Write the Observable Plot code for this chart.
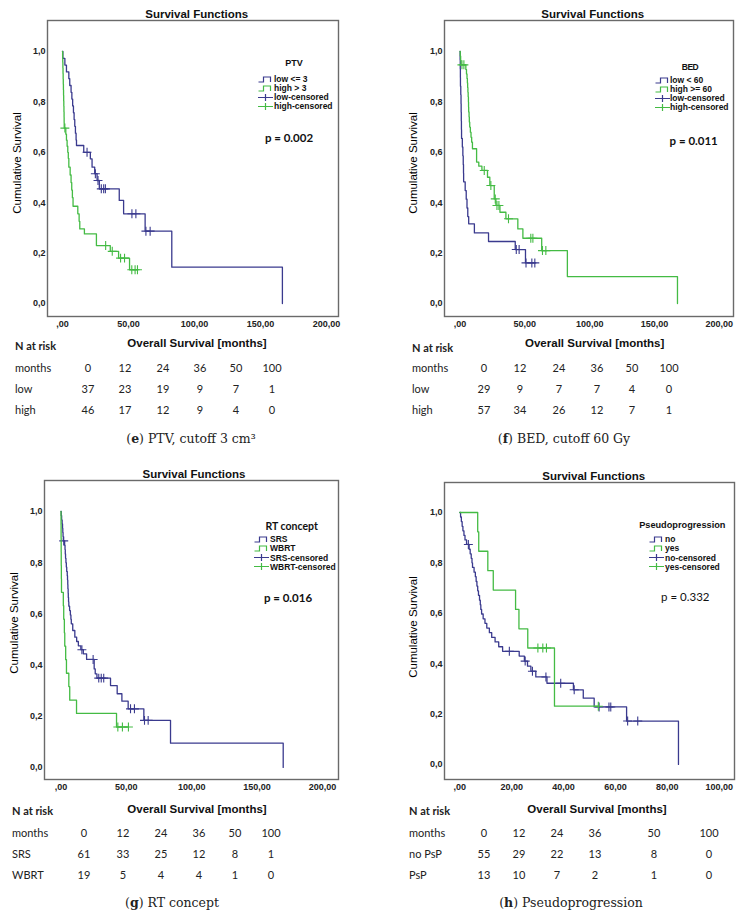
<!DOCTYPE html>
<html><head><meta charset="utf-8">
<script src="https://cdn.jsdelivr.net/npm/d3@7"></script>
<script src="https://cdn.jsdelivr.net/npm/@observablehq/plot@0.6"></script>
<style>
body{margin:0;background:#fff;}
#page{position:relative;width:744px;height:917px;overflow:hidden;font-family:"Liberation Sans",Arial,sans-serif;color:#111;}
.abs{position:absolute;white-space:nowrap;line-height:1;}
.c{transform:translate(-50%,-50%);}
.l{transform:translate(0,-50%);}
.title{font-weight:bold;font-size:11.5px;}
.xlab{font-weight:bold;font-size:11.5px;}
.ylab{font-size:11.5px;transform:translate(-50%,-50%) rotate(-90deg);color:#000;}
.tbl{font-family:Lato,"Open Sans",sans-serif;font-size:11px;color:#222;}
.tblh{font-family:Lato,"Open Sans",sans-serif;font-size:11px;font-weight:bold;color:#222;}
.cap{font-family:"DejaVu Serif",serif;font-size:12.5px;color:#222;}
.leg{font-weight:bold;font-size:8.5px;}
.pval{font-family:Lato,"Open Sans",sans-serif;font-size:11.5px;}
</style></head><body><div id="page"></div>
<script>
const NAVY = "#3a3a8e", GREEN = "#44bb44";
const riskMonths = [0, 12, 24, 36, 50, 100];
const yTickValues = [0, 0.2, 0.4, 0.6, 0.8, 1.0];
const xTicks200 = [0, 50, 100, 150, 200];
const xTicks100 = [0, 20, 40, 60, 80, 100];

// (e) PTV
const ptvLowEvents = [[0.3,0.973],[1.8,0.946],[3.0,0.919],[4.8,0.892],[5.5,0.865],[6.5,0.838],[7.1,0.811],[7.7,0.784],[8.3,0.757],[8.8,0.730],[9.3,0.703],[9.8,0.676],[10.3,0.649],[10.6,0.627],[16.1,0.600],[21.1,0.574],[22.4,0.541],[24.4,0.515],[26.2,0.488],[27.9,0.455],[43.0,0.409],[46.3,0.356],[62.6,0.287],[82.8,0.144],[166.6,0]];
const ptvLowCensored = [18.6,24.9,26.9,29.4,31.2,32.5,52.6,55.6,63.2,66.4];
const ptvHighEvents = [[0.1,0.978],[0.2,0.957],[0.3,0.935],[0.4,0.913],[0.5,0.891],[0.6,0.870],[0.7,0.848],[0.8,0.826],[0.9,0.804],[1.0,0.783],[1.1,0.761],[1.2,0.739],[1.25,0.717],[1.3,0.696],[2.5,0.672],[3.0,0.648],[3.5,0.624],[4.0,0.600],[4.4,0.576],[4.8,0.541],[5.8,0.510],[6.5,0.480],[7.0,0.450],[7.5,0.420],[8.0,0.386],[11.6,0.356],[12.6,0.326],[13.1,0.296],[16.6,0.276],[25.7,0.230],[36.2,0.207],[42.5,0.180],[50.8,0.134]];
const ptvHighCensored = [1.8,32.7,37.7,44.0,47.0,52.5,55.0,56.8];
const ptvLowRisk = [37, 23, 19, 9, 7, 1];
const ptvHighRisk = [46, 17, 12, 9, 4, 0];

// (f) BED
const bedLowEvents = [[0.1,0.966],[0.2,0.931],[0.3,0.897],[0.35,0.862],[0.6,0.828],[0.8,0.793],[0.9,0.759],[1.0,0.724],[1.1,0.690],[1.2,0.655],[1.8,0.621],[2.2,0.586],[2.5,0.552],[2.7,0.517],[2.8,0.483],[4.0,0.448],[4.8,0.414],[5.4,0.379],[6.0,0.345],[6.7,0.316],[11.1,0.280],[22.0,0.246],[42.6,0.214],[50.5,0.161]];
const bedLowCensored = [43.4,45.6,50.9,55.4,57.7];
const bedHighEvents = [[0.2,0.982],[0.5,0.965],[0.8,0.947],[4.5,0.929],[5.0,0.911],[5.4,0.893],[5.7,0.875],[5.9,0.857],[6.1,0.838],[6.3,0.820],[6.5,0.800],[6.6,0.780],[6.7,0.760],[7.0,0.740],[7.2,0.720],[7.5,0.700],[8.0,0.680],[8.5,0.660],[9.0,0.640],[9.6,0.614],[12.8,0.561],[14.5,0.545],[16.9,0.528],[21.2,0.501],[23.0,0.468],[26.4,0.415],[27.7,0.389],[30.8,0.362],[35.4,0.336],[44.6,0.296],[48.5,0.259],[63.0,0.210],[82.8,0.107],[167.7,0]];
const bedHighCensored = [1.5,3.0,18.7,23.8,27.2,28.5,30.0,37.4,54.6,56.2,63.6,66.2];
const bedLowRisk = [29, 9, 7, 7, 4, 0];
const bedHighRisk = [57, 34, 26, 12, 7, 1];

// (g) RT concept
const srsEvents = [[0.2,0.984],[0.5,0.967],[0.9,0.951],[1.2,0.934],[1.4,0.918],[1.6,0.902],[1.8,0.885],[2.8,0.868],[3.1,0.851],[3.3,0.834],[3.5,0.817],[3.8,0.800],[4.1,0.783],[4.4,0.766],[4.8,0.749],[5.0,0.732],[5.2,0.715],[5.3,0.698],[5.5,0.681],[5.6,0.664],[5.8,0.647],[6.0,0.630],[6.6,0.613],[7.2,0.596],[7.6,0.579],[7.9,0.561],[9.0,0.535],[10.6,0.509],[12.0,0.492],[13.3,0.475],[15.2,0.460],[17.1,0.444],[19.6,0.422],[25.4,0.385],[26.2,0.366],[27.5,0.349],[37.9,0.320],[43.0,0.288],[46.6,0.259],[51.4,0.229],[63.4,0.184],[83.8,0.095],[170.0,0]];
const srsCensored = [2.1,16.0,24.6,28.9,30.8,32.7,53.2,56.2,63.9,66.7];
const wbrtEvents = [[0.05,0.947],[0.1,0.895],[0.15,0.842],[0.2,0.789],[0.3,0.737],[0.4,0.684],[1.8,0.632],[2.1,0.579],[2.6,0.526],[2.9,0.474],[3.6,0.421],[4.2,0.368],[6.0,0.316],[6.7,0.263],[11.9,0.211],[42.5,0.158]];
const wbrtCensored = [43.5,47.0,51.6];
const srsRisk = [61, 33, 25, 12, 8, 1];
const wbrtRisk = [19, 5, 4, 4, 1, 0];

// (h) Pseudoprogression
const noPspEvents = [[0.3,0.982],[0.6,0.964],[0.9,0.945],[1.2,0.927],[1.6,0.909],[2.0,0.891],[2.6,0.873],[3.6,0.854],[4.0,0.836],[4.4,0.818],[4.7,0.800],[4.9,0.782],[5.5,0.763],[6.0,0.745],[6.3,0.726],[6.6,0.708],[6.9,0.689],[7.2,0.671],[7.6,0.652],[7.9,0.634],[8.1,0.615],[8.4,0.597],[9.0,0.578],[9.7,0.560],[10.4,0.541],[11.4,0.523],[12.3,0.504],[13.6,0.486],[15.0,0.467],[16.5,0.449],[22.9,0.430],[24.9,0.410],[26.1,0.390],[27.4,0.370],[29.3,0.347],[33.6,0.322],[43.8,0.296],[47.6,0.263],[51.8,0.228],[64.3,0.172],[84.3,0]];
const noPspCensored = [3.3,19.1,25.2,28.0,33.2,38.9,44.1,53.7,57.5,58.2,64.7,68.6];
const pspEvents = [[6.9,0.923],[7.3,0.846],[10.8,0.769],[12.9,0.692],[21.5,0.615],[22.8,0.538],[26.2,0.462],[36.5,0.231]];
const pspCensored = [30.1,32.0,33.4,53.4];
const noPspRisk = [55, 29, 22, 13, 8, 0];
const pspRisk = [13, 10, 7, 2, 1, 0];

const panels = [
  {
    box:{left:0, top:0, width:372, height:330}, margin:{top:20,right:34,bottom:14,left:47},
    xDomain:[-11.36, 209.1], yDomain:[-0.0516, 1.123], xTicks:xTicks200,
    series:[{events:ptvLowEvents, censored:ptvLowCensored, color:NAVY},{events:ptvHighEvents, censored:ptvHighCensored, color:GREEN}],
    title:[196.7,15], ylab:[18,163], xlab:[197,344],
    legend:{title:"PTV", titleStyle:"font-weight:bold;font-size:9px;", tpos:[294,63], gx:258, tx:274, ys:[79,88,97,106],
      labels:["low <= 3","high > 3","low-censored","high-censored"]},
    p:{text:"p = 0.002", pos:[289,138], bold:true},
    table:{labelX:15, cols:[88,125,163,200,236,272], ys:[345,367,388,409], names:["low","high"], rows:[ptvLowRisk, ptvHighRisk]},
    caption:{pos:[191,439], html:"(<b>e</b>) PTV, cutoff 3 cm³"}
  },
  {
    box:{left:372, top:0, width:372, height:330}, margin:{top:20,right:11,bottom:14,left:72},
    xDomain:[-11.95, 210.9], yDomain:[-0.0516, 1.123], xTicks:xTicks200,
    series:[{events:bedLowEvents, censored:bedLowCensored, color:NAVY},{events:bedHighEvents, censored:bedHighCensored, color:GREEN}],
    title:[592.7,15], ylab:[413.7,163], xlab:[594.7,344],
    legend:{title:"BED", titleStyle:"font-weight:bold;font-size:8.5px;letter-spacing:-0.5px;", tpos:[690,67], gx:655, tx:670, ys:[80,89,98,107],
      labels:["low < 60","high >= 60","low-censored","high-censored"]},
    p:{text:"p = 0.011", pos:[693.7,141], bold:true},
    table:{labelX:412, cols:[484,520,559,597,632,669], ys:[347,367,388,409], names:["low","high"], rows:[bedLowRisk, bedHighRisk]},
    caption:{pos:[564,439], html:"(<b>f</b>) BED, cutoff 60 Gy"}
  },
  {
    box:{left:0, top:460, width:372, height:330}, margin:{top:20,right:34,bottom:11,left:44},
    xDomain:[-12.6, 212.3], yDomain:[-0.047, 1.121], xTicks:xTicks200,
    series:[{events:srsEvents, censored:srsCensored, color:NAVY},{events:wbrtEvents, censored:wbrtCensored, color:GREEN}],
    title:[194,475], ylab:[14.7,623], xlab:[197,810],
    legend:{title:"RT concept", titleStyle:"font-weight:bold;font-size:10.5px;font-family:Lato,sans-serif;", tpos:[291.7,526], gx:254, tx:270, ys:[539.3,548.3,557.7,566.7],
      labels:["SRS","WBRT","SRS-censored","WBRT-censored"]},
    p:{text:"p = 0.016", pos:[288,598], bold:true},
    table:{labelX:12, cols:[84,123,161,199,235,271], ys:[810,832,853,874], names:["SRS","WBRT"], rows:[srsRisk, wbrtRisk]},
    caption:{pos:[172,903], html:"(<b>g</b>) RT concept"}
  },
  {
    box:{left:372, top:460, width:372, height:330}, margin:{top:22,right:10,bottom:11,left:72},
    xDomain:[-5.9, 105.9], yDomain:[-0.06, 1.119], xTicks:xTicks100,
    series:[{events:noPspEvents, censored:noPspCensored, color:NAVY},{events:pspEvents, censored:pspCensored, color:GREEN}],
    title:[593.7,476.7], ylab:[413.7,627], xlab:[597,810],
    legend:{title:"Pseudoprogression", titleStyle:"font-weight:bold;font-size:9.2px;", tpos:[682.3,525.7], gx:649, tx:665, ys:[539.3,548.3,557.7,566.7],
      labels:["no","yes","no-censored","yes-censored"]},
    p:{text:"p = 0.332", pos:[685.3,596.7], bold:false},
    table:{labelX:409, cols:[484,519,557,595,654,709], ys:[810,832,853,874], names:["no PsP","PsP"], rows:[noPspRisk, pspRisk]},
    caption:{pos:[571,903], html:"(<b>h</b>) Pseudoprogression"}
  }
];

function survAt(events, t){ let s = 1; for (const [et, es] of events){ if (et <= t) s = es; else break; } return s; }
function stepPoints(events, censored){
  const last = events[events.length-1];
  const tMax = Math.max(last[0], ...censored);
  const pts = [[0,1], ...events];
  if (tMax > last[0]) pts.push([tMax, last[1]]);
  return pts;
}
const fmtX = v => v === 0 ? ",00" : `${v},00`;
const fmtY = v => v.toFixed(1).replace(".", ",");

const page = document.getElementById("page");
function addText(x, y, html, cls, style, anchor){
  const d = document.createElement("div");
  d.className = "abs " + cls + (anchor ? " " + anchor : "");
  d.style.left = x + "px"; d.style.top = y + "px";
  if (style) d.style.cssText += style;
  d.innerHTML = html;
  page.appendChild(d);
  return d;
}
function glyph(color, censored){
  const d = censored ? "M0,4.5H15M7.5,1V8" : "M0.5,7H5.5V2H12.5V7";
  return `<svg width="16" height="9" style="display:block"><path d="${d}" fill="none" stroke="${color}" stroke-width="1.2"/></svg>`;
}

for (const p of panels){
  const marks = [Plot.frame({stroke:"#6a6a6a", strokeWidth:1.4})];
  for (const s of p.series){
    marks.push(Plot.line(stepPoints(s.events, s.censored), {x:d=>d[0], y:d=>d[1], curve:"step-after", stroke:s.color, strokeWidth:1.3}));
    marks.push(Plot.dot(s.censored, {x:t=>t, y:t=>survAt(s.events, t), symbol:"plus", r:3, stroke:s.color, strokeWidth:1.1}));
  }
  marks.push(Plot.axisX({ticks:p.xTicks, tickFormat:fmtX, tickSize:0, tickPadding:4, label:null, fontWeight:"bold"}));
  marks.push(Plot.axisY({ticks:yTickValues, tickFormat:fmtY, tickSize:0, tickPadding:2, label:null, fontWeight:"bold"}));
  const svg = Plot.plot({
    width:p.box.width, height:p.box.height,
    marginTop:p.margin.top, marginRight:p.margin.right, marginBottom:p.margin.bottom, marginLeft:p.margin.left,
    x:{type:"linear", domain:p.xDomain, label:null},
    y:{type:"linear", domain:p.yDomain, label:null},
    style:{fontFamily:"'Liberation Sans', Arial, sans-serif", fontSize:"9px", fontWeight:"bold", color:"#222", background:"transparent", overflow:"visible"},
    marks
  });
  const holder = document.createElement("div");
  holder.className = "abs";
  holder.style.left = p.box.left + "px"; holder.style.top = p.box.top + "px";
  holder.appendChild(svg);
  page.appendChild(holder);

  addText(p.title[0], p.title[1], "Survival Functions", "title", "", "c");
  addText(p.ylab[0], p.ylab[1], "Cumulative Survival", "ylab", "", "");
  addText(p.xlab[0], p.xlab[1], "Overall Survival [months]", "xlab", "", "c");

  const lg = p.legend;
  addText(lg.tpos[0], lg.tpos[1], lg.title, "", lg.titleStyle, "c");
  const colors = [p.series[0].color, p.series[1].color, p.series[0].color, p.series[1].color];
  lg.labels.forEach((lab, i) => {
    addText(lg.gx, lg.ys[i] - 4.5, glyph(colors[i], i >= 2), "", "", "");
    addText(lg.tx, lg.ys[i], lab, "leg", "", "l");
  });

  addText(p.p.pos[0], p.p.pos[1], p.p.text, "pval", p.p.bold ? "font-weight:bold;" : "", "c");

  const t = p.table;
  addText(t.labelX, t.ys[0], "N at risk", "tblh", "", "l");
  addText(t.labelX, t.ys[1], "months", "tbl", "", "l");
  riskMonths.forEach((m, j) => addText(t.cols[j], t.ys[1], String(m), "tbl", "", "c"));
  t.rows.forEach((row, r) => {
    addText(t.labelX, t.ys[2+r], t.names[r], "tbl", "", "l");
    row.forEach((v, j) => addText(t.cols[j], t.ys[2+r], String(v), "tbl", "", "c"));
  });
  addText(p.caption.pos[0], p.caption.pos[1], p.caption.html, "cap", "", "c");
}
</script></body></html>
